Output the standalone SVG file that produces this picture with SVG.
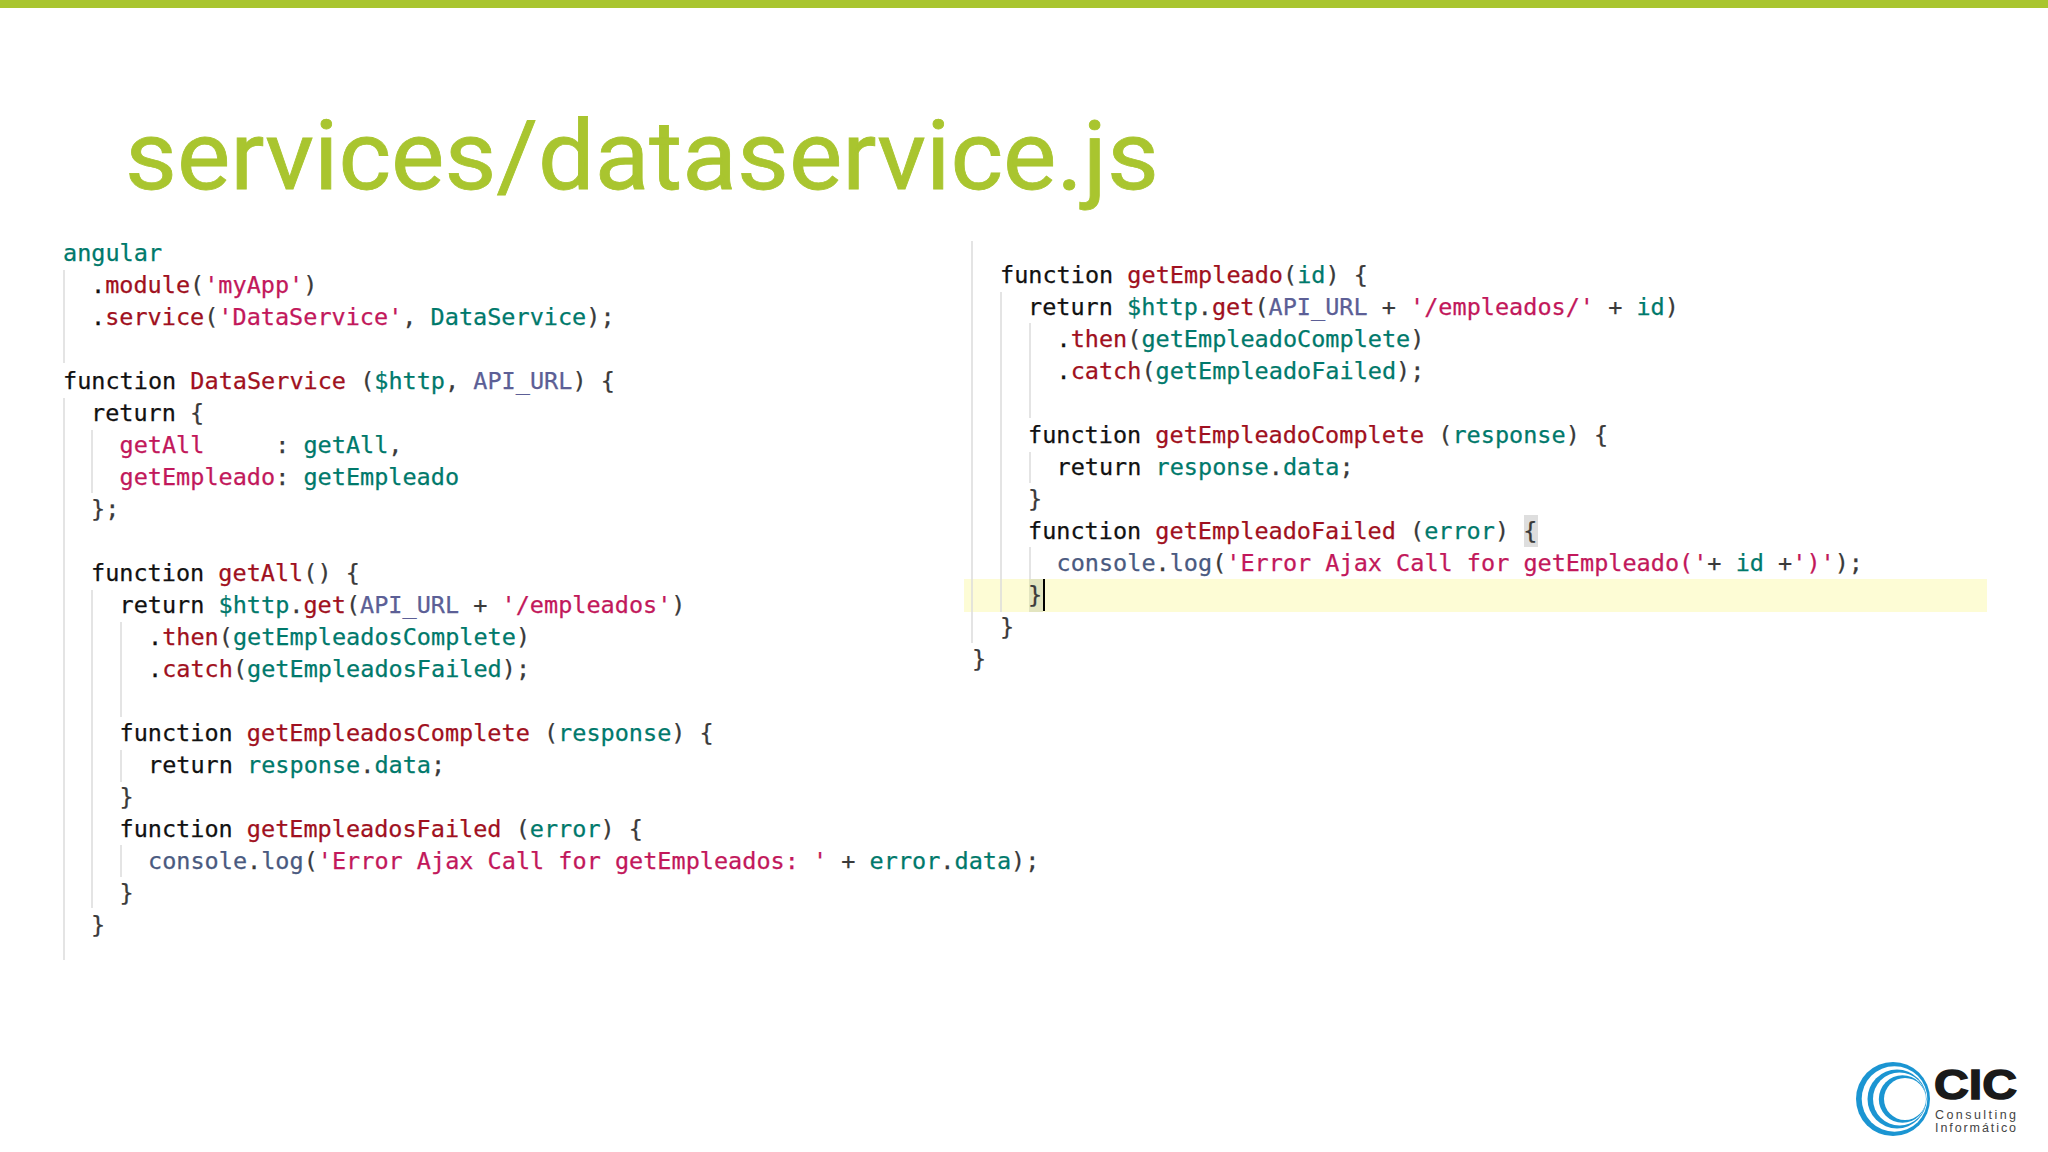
<svg xmlns="http://www.w3.org/2000/svg" width="2048" height="1152" viewBox="0 0 2048 1152">
<style>
.c{font-family:"DejaVu Sans Mono","Liberation Mono",monospace;font-size:23.5px;fill:#3a3a3a;stroke:#3a3a3a;stroke-width:.25;white-space:pre}
.k{fill:#111;stroke:#111}.t{fill:#00796b;stroke:#00796b}.m{fill:#a01020;stroke:#a01020}.s{fill:#c2185b;stroke:#c2185b}.v{fill:#5c5f96;stroke:#5c5f96}.l{fill:#4a5a80;stroke:#4a5a80}
.g{stroke:#dcdcdc;stroke-width:1.5;fill:none}
</style>
<rect width="2048" height="1152" fill="#fff"/>
<rect width="2048" height="8" fill="#a9c52f"/>
<text x="125" y="189" font-family="Roboto,sans-serif" font-size="96" fill="#a9c52f" stroke="#a9c52f" stroke-width=".8" textLength="1034" lengthAdjust="spacingAndGlyphs">services/dataservice.js</text>
<g id="left-code">
<path class="g" d="M64 270V363M64 398V960M92 430V493M92 590V908M121 622V717M121 750V782M121 845V877"/>
<text class="c" xml:space="preserve"><tspan x="63" y="261" class="t">angular</tspan>
<tspan x="91" y="293"><tspan class="k">.</tspan><tspan class="m">module</tspan>(<tspan class="s">'myApp'</tspan>)</tspan>
<tspan x="91" y="325"><tspan class="k">.</tspan><tspan class="m">service</tspan>(<tspan class="s">'DataService'</tspan>, <tspan class="t">DataService</tspan>);</tspan>
<tspan x="63" y="389"><tspan class="k">function </tspan><tspan class="m">DataService</tspan> (<tspan class="t">$http</tspan>, <tspan class="v">API_URL</tspan>) {</tspan>
<tspan x="91" y="421"><tspan class="k">return</tspan> {</tspan>
<tspan x="119.5" y="453"><tspan class="s">getAll</tspan>     : <tspan class="t">getAll</tspan>,</tspan>
<tspan x="119.5" y="485"><tspan class="s">getEmpleado</tspan>: <tspan class="t">getEmpleado</tspan></tspan>
<tspan x="91" y="517">};</tspan>
<tspan x="91" y="581"><tspan class="k">function </tspan><tspan class="m">getAll</tspan>() {</tspan>
<tspan x="119.5" y="613"><tspan class="k">return </tspan><tspan class="t">$http</tspan>.<tspan class="m">get</tspan>(<tspan class="v">API_URL</tspan> + <tspan class="s">'/empleados'</tspan>)</tspan>
<tspan x="148" y="645"><tspan class="k">.</tspan><tspan class="m">then</tspan>(<tspan class="t">getEmpleadosComplete</tspan>)</tspan>
<tspan x="148" y="677"><tspan class="k">.</tspan><tspan class="m">catch</tspan>(<tspan class="t">getEmpleadosFailed</tspan>);</tspan>
<tspan x="119.5" y="741"><tspan class="k">function </tspan><tspan class="m">getEmpleadosComplete</tspan> (<tspan class="t">response</tspan>) {</tspan>
<tspan x="148" y="773"><tspan class="k">return </tspan><tspan class="t">response</tspan>.<tspan class="t">data</tspan>;</tspan>
<tspan x="119.5" y="805">}</tspan>
<tspan x="119.5" y="837"><tspan class="k">function </tspan><tspan class="m">getEmpleadosFailed</tspan> (<tspan class="t">error</tspan>) {</tspan>
<tspan x="148" y="869"><tspan class="l">console</tspan>.<tspan class="l">log</tspan>(<tspan class="s">'Error Ajax Call for getEmpleados: '</tspan> + <tspan class="t">error</tspan>.<tspan class="t">data</tspan>);</tspan>
<tspan x="119.5" y="901">}</tspan>
<tspan x="91" y="933">}</tspan></text>
</g>
<g id="right-code">
<rect x="964" y="579" width="1023" height="33" fill="#fdfcd5"/>
<rect x="1524" y="515" width="14" height="32" fill="#dedede"/>
<rect x="1029" y="579" width="14" height="33" fill="#e3e5c0"/>
<path class="g" d="M972 241V643M1001 292V612M1030 323V418M1030 452V483M1030 547V579"/>
<rect x="1043" y="579" width="2" height="32" fill="#000"/>
<text class="c" xml:space="preserve"><tspan x="1000" y="282.5"><tspan class="k">function </tspan><tspan class="m">getEmpleado</tspan>(<tspan class="t">id</tspan>) {</tspan>
<tspan x="1028" y="314.5"><tspan class="k">return </tspan><tspan class="t">$http</tspan>.<tspan class="m">get</tspan>(<tspan class="v">API_URL</tspan> + <tspan class="s">'/empleados/'</tspan> + <tspan class="t">id</tspan>)</tspan>
<tspan x="1056.5" y="346.5"><tspan class="k">.</tspan><tspan class="m">then</tspan>(<tspan class="t">getEmpleadoComplete</tspan>)</tspan>
<tspan x="1056.5" y="378.5"><tspan class="k">.</tspan><tspan class="m">catch</tspan>(<tspan class="t">getEmpleadoFailed</tspan>);</tspan>
<tspan x="1028" y="442.5"><tspan class="k">function </tspan><tspan class="m">getEmpleadoComplete</tspan> (<tspan class="t">response</tspan>) {</tspan>
<tspan x="1056.5" y="474.5"><tspan class="k">return </tspan><tspan class="t">response</tspan>.<tspan class="t">data</tspan>;</tspan>
<tspan x="1028" y="506.5">}</tspan>
<tspan x="1028" y="538.5"><tspan class="k">function </tspan><tspan class="m">getEmpleadoFailed</tspan> (<tspan class="t">error</tspan>) {</tspan>
<tspan x="1056.5" y="570.5"><tspan class="l">console</tspan>.<tspan class="l">log</tspan>(<tspan class="s">'Error Ajax Call for getEmpleado('</tspan>+ <tspan class="t">id</tspan> +<tspan class="s">')'</tspan>);</tspan>
<tspan x="1028" y="602.5">}</tspan>
<tspan x="1000" y="634.5">}</tspan>
<tspan x="972" y="666.5">}</tspan></text>
</g>
<g id="logo">
<circle cx="1893" cy="1099" r="37" fill="#1b95d2"/>
<circle cx="1894.5" cy="1099" r="32.8" fill="#fff"/>
<circle cx="1897" cy="1099" r="29.5" fill="#1b95d2"/>
<circle cx="1899.5" cy="1099" r="26.5" fill="#fff"/>
<circle cx="1902.5" cy="1099" r="23.7" fill="#1b95d2"/>
<circle cx="1905" cy="1099" r="21" fill="#fff"/>
<text x="1934" y="1099" font-family="Liberation Sans,sans-serif" font-weight="700" font-size="43" fill="#1a1a1a" stroke="#1a1a1a" stroke-width="1.5" textLength="83" lengthAdjust="spacingAndGlyphs">CIC</text>
<text x="1935" y="1118.5" font-family="Liberation Sans,sans-serif" font-size="12.5" fill="#444" textLength="81">Consulting</text>
<text x="1935" y="1131.5" font-family="Liberation Sans,sans-serif" font-size="12.5" fill="#444" textLength="81">Informático</text>
</g>
</svg>
